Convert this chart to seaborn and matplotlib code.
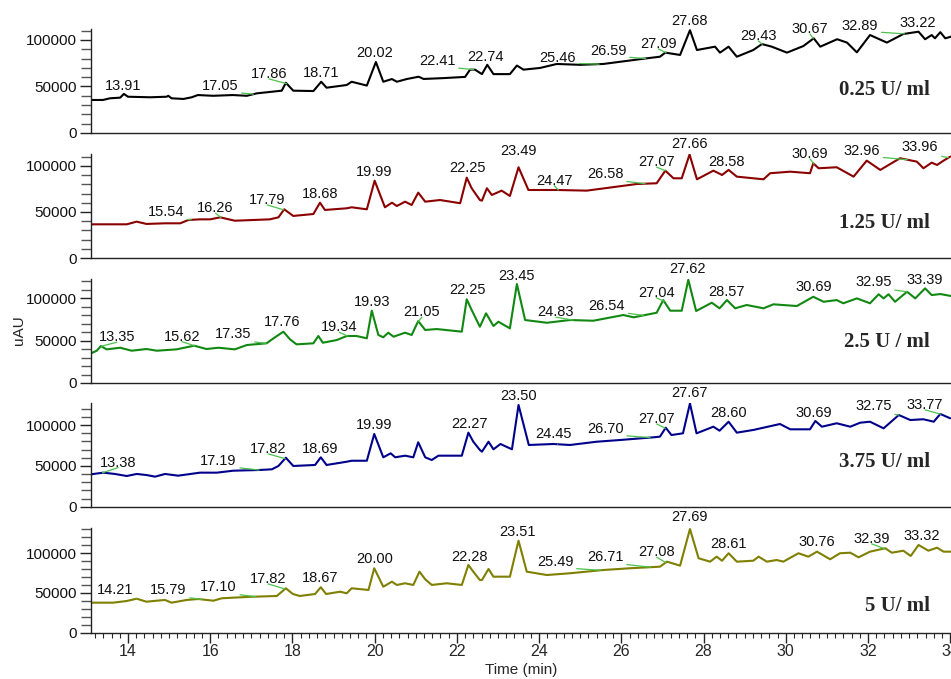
import numpy as np
import pandas as pd
import matplotlib
matplotlib.use("Agg")
import matplotlib.pyplot as plt
from matplotlib.ticker import MultipleLocator, FuncFormatter
import seaborn as sns

sns.set_style("ticks")
plt.rcParams["font.family"] = ["Liberation Sans", "DejaVu Sans"]

# ---- chromatogram traces (time in min, signal in uAU) ----
t_025 = [13.10, 13.39, 13.56, 13.81, 13.90, 14.00, 14.54, 14.94, 14.98, 15.06, 15.35, 15.55, 15.70,
         16.07, 16.55, 16.89, 17.13, 17.74, 17.84, 18.02, 18.51, 18.70, 18.83, 19.32, 19.44, 19.81,
         20.03, 20.21, 20.42, 20.54, 20.78, 21.07, 21.19, 21.67, 22.20, 22.32, 22.44, 22.61, 22.74,
         22.89, 23.29, 23.46, 23.62, 24.02, 24.43, 25.00, 25.56, 26.62, 26.94, 27.07, 27.43, 27.67,
         27.84, 28.28, 28.40, 28.61, 28.81, 29.21, 29.42, 29.66, 30.03, 30.43, 30.68, 30.84, 31.25,
         31.49, 31.73, 32.05, 32.46, 32.86, 33.23, 33.39, 33.55, 33.63, 33.76, 33.88, 34.02]
v_025 = [35500, 35500, 37300, 38000, 42000, 39000, 38400, 39000, 40000, 37300, 36600, 38400, 40800,
         40000, 40800, 40000, 42600, 45500, 54000, 45500, 45100, 55100, 48700, 51600, 55100, 51000,
         76300, 55100, 58000, 55100, 58000, 60500, 58100, 59000, 60300, 68100, 68100, 63300, 73300,
         63300, 63300, 72500, 68100, 69900, 74200, 73300, 74200, 80300, 82000, 86400, 83900, 110500,
         89200, 92800, 86400, 92800, 82000, 89200, 95600, 92800, 86400, 93500, 101800, 92800, 100800,
         97200, 86700, 105300, 97200, 106400, 108900, 100800, 105300, 101800, 108400, 101800, 103500]

t_125 = [13.10, 13.97, 14.21, 14.45, 14.90, 15.27, 15.47, 15.75, 16.00, 16.24, 16.60, 17.05, 17.45,
         17.66, 17.80, 18.02, 18.51, 18.67, 18.79, 19.32, 19.44, 19.81, 20.00, 20.25, 20.42, 20.54,
         20.74, 20.90, 21.06, 21.23, 21.59, 22.08, 22.24, 22.36, 22.56, 22.61, 22.73, 22.85, 23.09,
         23.29, 23.50, 23.74, 24.43, 25.16, 26.38, 26.86, 27.07, 27.27, 27.47, 27.66, 27.84, 28.24,
         28.45, 28.61, 28.81, 29.46, 29.62, 30.11, 30.59, 30.67, 30.80, 31.24, 31.65, 31.97, 32.30,
         32.78, 33.19, 33.35, 33.55, 33.68, 33.84, 34.00]
v_125 = [36600, 36600, 39500, 37000, 37700, 37700, 41300, 42000, 42000, 44200, 40500, 41300, 42000,
         44200, 52900, 45700, 47800, 60100, 52200, 54000, 55100, 52900, 84000, 55100, 60100, 56500,
         61200, 57600, 71000, 61200, 63000, 59500, 87300, 75800, 63000, 62300, 75800, 68500, 73200,
         67400, 98600, 73900, 73900, 73200, 80400, 81200, 94900, 86600, 86600, 112500, 85500, 94900,
         90200, 95700, 88400, 85500, 92100, 93800, 92100, 102900, 97500, 98600, 88400, 105800, 95700,
         108400, 104700, 97500, 103600, 101100, 105800, 110100]

t_25 = [13.10, 13.24, 13.34, 13.48, 13.81, 14.09, 14.45, 14.70, 15.18, 15.61, 15.91, 16.20, 16.60,
        16.89, 17.37, 17.54, 17.78, 17.94, 18.10, 18.51, 18.63, 18.74, 19.08, 19.32, 19.56, 19.81,
        19.93, 20.09, 20.21, 20.33, 20.46, 20.74, 20.90, 21.06, 21.23, 21.51, 22.12, 22.24, 22.36,
        22.56, 22.71, 22.89, 23.01, 23.29, 23.46, 23.66, 24.19, 24.75, 25.32, 26.05, 26.30, 26.86,
        27.02, 27.19, 27.47, 27.63, 27.82, 28.20, 28.39, 28.57, 28.77, 29.05, 29.46, 29.70, 30.27,
        30.67, 30.92, 31.24, 31.40, 31.73, 32.05, 32.26, 32.38, 32.50, 32.66, 32.95, 33.15, 33.39,
        33.55, 33.76, 34.02]
v_25 = [34900, 38000, 43500, 39600, 41500, 38000, 40000, 38000, 39600, 43900, 40000, 41500, 39600,
        44700, 46700, 52600, 60400, 51400, 45500, 46700, 55300, 47400, 50600, 55300, 55300, 52600,
        85100, 56500, 53800, 59200, 54500, 59200, 56500, 72900, 62400, 63500, 60400, 98500, 85900,
        66200, 82000, 67100, 72100, 64300, 116500, 74100, 70900, 74100, 73300, 80000, 77300, 82700,
        97600, 85100, 85100, 121500, 84700, 94500, 87900, 97600, 87900, 91800, 87900, 92600, 90600,
        101500, 95600, 97600, 93800, 99600, 93800, 104400, 99600, 104400, 95600, 107400, 99600, 111400,
        103500, 104700, 102400]

t_375 = [13.10, 13.40, 13.68, 13.97, 14.21, 14.45, 14.66, 14.90, 15.22, 15.75, 16.16, 16.56, 17.21,
         17.50, 17.66, 17.84, 18.02, 18.55, 18.69, 18.83, 19.32, 19.44, 19.81, 19.99, 20.21, 20.39,
         20.50, 20.74, 20.94, 21.06, 21.23, 21.39, 21.55, 22.12, 22.28, 22.40, 22.56, 22.61, 22.77,
         22.89, 23.06, 23.34, 23.50, 23.75, 24.35, 24.75, 25.40, 25.97, 26.78, 26.94, 27.08, 27.22,
         27.50, 27.67, 27.83, 28.24, 28.39, 28.61, 28.81, 29.21, 29.86, 30.11, 30.59, 30.72, 30.88,
         31.24, 31.57, 31.81, 32.05, 32.38, 32.75, 33.03, 33.35, 33.60, 33.76, 34.00]
v_375 = [39700, 41700, 40100, 37600, 40100, 38800, 36800, 40100, 38000, 41700, 41700, 44100, 45000,
         45800, 49900, 60000, 49900, 51100, 60500, 51100, 55100, 56300, 56300, 89100, 60500, 65400,
         60500, 62500, 60500, 78900, 60500, 57200, 62500, 62500, 90700, 79600, 69500, 67400, 79600,
         70300, 76800, 70300, 124600, 75600, 76800, 75600, 79600, 81700, 85000, 85800, 96800, 87800,
         89900, 126500, 89900, 98000, 93100, 104100, 90700, 94000, 101300, 94800, 94800, 105000, 98000,
         102200, 98000, 102900, 104100, 96000, 112300, 106200, 107100, 104100, 113600, 108300]

t_5 = [13.10, 13.64, 13.97, 14.21, 14.45, 14.70, 14.90, 15.06, 15.43, 15.71, 15.91, 16.08, 16.28,
       16.56, 17.05, 17.62, 17.84, 18.01, 18.18, 18.55, 18.69, 18.82, 19.16, 19.32, 19.44, 19.85,
       19.99, 20.21, 20.42, 20.54, 20.74, 20.94, 21.09, 21.23, 21.39, 21.75, 22.12, 22.28, 22.40,
       22.56, 22.61, 22.77, 22.89, 23.29, 23.50, 23.70, 24.19, 24.75, 25.56, 26.21, 26.94, 27.11,
       27.43, 27.67, 27.88, 28.16, 28.32, 28.45, 28.61, 28.81, 29.21, 29.34, 29.54, 29.78, 29.94,
       30.31, 30.55, 30.76, 31.08, 31.32, 31.57, 31.77, 32.05, 32.42, 32.58, 32.86, 33.04, 33.23,
       33.47, 33.68, 33.84, 34.02]
v_5 = [37800, 37800, 39900, 42800, 39000, 40300, 41200, 37800, 41200, 42400, 41200, 40300, 43300,
       44100, 45300, 46200, 55900, 48700, 46200, 48700, 57200, 48700, 51600, 49600, 55900, 53800,
       81100, 57900, 64200, 60100, 62200, 60100, 76800, 67200, 60100, 62200, 60100, 85200, 76800,
       66300, 66300, 80200, 70500, 70500, 115800, 76800, 72600, 74800, 78900, 81100, 83100, 89400,
       84400, 130500, 93700, 89400, 95700, 90600, 100000, 89400, 90600, 95700, 89400, 91500, 89400,
       100000, 95700, 102000, 92400, 100000, 100700, 94900, 102000, 106300, 100700, 103200, 96600, 110400,
       103200, 107000, 102000, 102000]

conc_labels = ["0.25 U/ ml", "1.25 U/ ml", "2.5 U / ml", "3.75 U/ ml", "5 U/ ml"]
trace_t = [t_025, t_125, t_25, t_375, t_5]
trace_v = [v_025, v_125, v_25, v_375, v_5]

# ---- peak labels (retention time text) ----
peaks_025 = ["13.91", "17.05", "17.86", "18.71", "20.02", "22.41", "22.74", "25.46", "26.59",
             "27.09", "27.68", "29.43", "30.67", "32.89", "33.22"]
peaks_125 = ["15.54", "16.26", "17.79", "18.68", "19.99", "22.25", "23.49", "24.47", "26.58",
             "27.07", "27.66", "28.58", "30.69", "32.96", "33.96"]
peaks_25 = ["13.35", "15.62", "17.35", "17.76", "19.34", "19.93", "21.05", "22.25", "23.45",
            "24.83", "26.54", "27.04", "27.62", "28.57", "30.69", "32.95", "33.39"]
peaks_375 = ["13.38", "17.19", "17.82", "18.69", "19.99", "22.27", "23.50", "24.45", "26.70",
             "27.07", "27.67", "28.60", "30.69", "32.75", "33.77"]
peaks_5 = ["14.21", "15.79", "17.10", "17.82", "18.67", "20.00", "22.28", "23.51", "25.49",
           "26.71", "27.08", "27.69", "28.61", "30.76", "32.39", "33.32"]
peak_texts = [peaks_025, peaks_125, peaks_25, peaks_375, peaks_5]

# label placement (data coords) and which labels carry a green leader line
label_layout = [
    dict(t=[13.88, 16.24, 17.43, 18.70, 20.01, 21.52, 22.69, 24.46, 25.68, 26.90, 27.67, 29.33, 30.59, 31.81, 33.20],
         v=[50500, 50500, 63400, 64500, 86000, 77400, 81700, 80600, 88200, 95700, 120400, 104300, 111800, 115000, 118300],
         g=[0, 1, 1, 0, 0, 1, 0, 1, 1, 1, 0, 1, 1, 1, 0]),
    dict(t=[14.92, 16.13, 17.39, 18.67, 19.99, 22.27, 23.50, 24.37, 25.61, 26.86, 27.66, 28.57, 30.59, 31.85, 33.27],
         v=[49700, 54000, 63000, 69600, 93200, 97800, 116600, 84000, 91300, 104000, 123900, 104700, 113000, 116600, 120300],
         g=[1, 1, 1, 0, 0, 0, 0, 1, 1, 1, 0, 0, 1, 1, 1]),
    dict(t=[13.73, 15.31, 16.56, 17.74, 19.14, 19.93, 21.15, 22.27, 23.44, 24.41, 25.65, 26.85, 27.61, 28.57, 30.67, 32.13, 33.39],
         v=[53800, 54500, 57600, 72100, 65500, 95600, 83200, 109400, 126200, 83200, 90900, 106200, 133800, 106700, 112600, 118500, 121200],
         g=[1, 1, 1, 0, 1, 0, 1, 0, 0, 1, 1, 1, 0, 0, 0, 1, 0]),
    dict(t=[13.76, 16.20, 17.41, 18.67, 19.99, 22.30, 23.50, 24.35, 25.61, 26.86, 27.66, 28.61, 30.67, 32.13, 33.39],
         v=[53900, 56400, 70700, 70700, 100100, 101300, 135600, 89100, 94800, 107400, 139700, 114400, 114400, 123400, 124600],
         g=[1, 1, 1, 0, 0, 0, 0, 1, 1, 1, 0, 0, 0, 1, 1]),
    dict(t=[13.68, 14.98, 16.20, 17.41, 18.67, 19.99, 22.30, 23.47, 24.39, 25.61, 26.86, 27.67, 28.61, 30.76, 32.09, 33.31],
         v=[53800, 53800, 57200, 67600, 68500, 92400, 95300, 127200, 88600, 94900, 101200, 145300, 111700, 113800, 118000, 122100],
         g=[1, 1, 1, 1, 0, 0, 0, 0, 1, 1, 1, 0, 0, 0, 1, 0]),
]

colors = ["#000000", "#8b0000", "#118811", "#00008b", "#7f7f00"]
# panel extents in pixels (bottom, top) and y upper limit
panel_px = [(133, 29), (258, 154), (383, 279), (506.7, 402.7), (632.7, 528.3)]
ytops = [111800, 113000, 122400, 127400, 131400]
conc_y = [0.41, 0.34, 0.39, 0.43, 0.26]

W, H = 951, 679
fig = plt.figure(figsize=(W / 100, H / 100), dpi=100)

for i in range(5):
    bot, top = panel_px[i]
    ax = fig.add_axes([91 / W, 1 - bot / H, (W - 91) / W, (bot - top) / H])
    df = pd.DataFrame({"time": trace_t[i], "signal": trace_v[i]})
    sns.lineplot(data=df, x="time", y="signal", ax=ax, color=colors[i], linewidth=1.5)

    ax.set_xlim(13.1, 34.02)
    ax.set_ylim(0, ytops[i])
    ax.set_xlabel("")
    ax.set_ylabel("")
    for s in ("top", "right"):
        ax.spines[s].set_visible(False)
    for s in ("left", "bottom"):
        ax.spines[s].set_linewidth(1.0)
        ax.spines[s].set_color("#222222")

    ax.yaxis.set_major_locator(MultipleLocator(50000))
    ax.yaxis.set_minor_locator(MultipleLocator(10000))
    ax.yaxis.set_major_formatter(FuncFormatter(lambda y, p: f"{y:.0f}"))
    ax.tick_params(axis="y", which="major", length=8, width=1, labelsize=11, pad=2, colors="#222222")
    ax.tick_params(axis="y", which="minor", length=7, width=1, colors="#555555")
    for lab in ax.get_yticklabels():
        lab.set_color("#111111")

    if i < 4:
        ax.tick_params(axis="x", which="both", bottom=False, labelbottom=False)
    else:
        ax.xaxis.set_major_locator(MultipleLocator(2))
        ax.xaxis.set_minor_locator(MultipleLocator(0.2))
        ax.xaxis.set_major_formatter(FuncFormatter(lambda x, p: f"{x:.0f}"))
        ax.tick_params(axis="x", which="major", length=7, width=1, labelsize=11.5, pad=1)
        ax.tick_params(axis="x", which="minor", length=3.5, width=0.8)

    lay = label_layout[i]
    for txt, lt, lv, g in zip(peak_texts[i], lay["t"], lay["v"], lay["g"]):
        rt = float(txt)
        kw = {}
        if g:
            kw["arrowprops"] = dict(arrowstyle="-", color="#4cc24c", lw=0.9,
                                    relpos=(0.5, 0.15), shrinkA=0, shrinkB=0)
        ax.annotate(txt, xy=(rt, np.interp(rt, trace_t[i], trace_v[i])), xytext=(lt, lv),
                    textcoords="data", ha="center", va="center", fontsize=10.5,
                    color="#111111", annotation_clip=False, **kw)

    ax.text(0.9756, conc_y[i], conc_labels[i], transform=ax.transAxes, ha="right", va="center",
            fontsize=15, fontweight="bold", family=["Liberation Serif", "DejaVu Serif"])

fig.text(521 / W, 1 - 670 / H, "Time (min)", ha="center", va="center", fontsize=11)
fig.text(19 / W, 1 - 330 / H, "uAU", ha="center", va="center", rotation=90, fontsize=11)

fig.savefig("out.png", dpi=100)
